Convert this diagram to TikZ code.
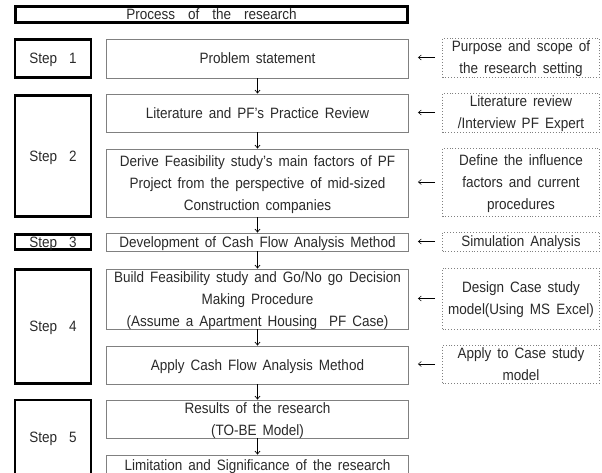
\documentclass[tikz,border=0pt]{standalone}
\usepackage{fontspec}
\setmainfont[WordSpace=1.6,FakeStretch=0.9]{Liberation Sans}
\usetikzlibrary{arrows.meta}
\definecolor{boxgray}{HTML}{808080}
\definecolor{txt}{HTML}{2A2A2A}
\newcommand{\wsp}{\hskip 12pt\relax}
\tikzset{
  basefont/.style={font=\fontsize{15}{22}\selectfont, text=txt},
  oneline/.style={text height=10.7pt, text depth=0pt},
  twolines/.style={text height=32.7pt, text depth=0pt},
  threelines/.style={text height=54.7pt, text depth=0pt},
  mainbox/.style={basefont, draw=boxgray, line width=0.9pt, minimum width=302pt, align=center, inner sep=0pt},
  stepbox/.style={basefont, oneline, draw=black, line width=2.8pt, minimum width=76pt, align=center, inner sep=0pt},
  sidebox/.style={basefont, draw=boxgray, line width=0.9pt, dotted, minimum width=157pt, align=center, inner sep=0pt},
  titlebox/.style={basefont, oneline, draw=black, line width=2.8pt, minimum width=392pt, minimum height=16pt, inner sep=0pt},
  downarr/.style={draw=black, line width=0.7pt, -{Straight Barb[length=3pt,width=5pt]}},
  leftarr/.style={draw=black, line width=0.5pt, -{Straight Barb[length=3pt,width=5pt]}}
}
\begin{document}
\begin{tikzpicture}[x=1pt,y=-1pt]
\useasboundingbox (0,0) rectangle (602,472);
\fill[white] (0,0) rectangle (602,472);
\begin{scope}
\clip (0,0) rectangle (602,472);
% title
\node[titlebox] (title) at (211.5,14.5) {Process\hskip 13pt of\hskip 13pt the\hskip 13pt research};
% step boxes
\node[stepbox, minimum height=38pt] (s1) at (53,58.5) {Step\wsp 1};
\node[stepbox, minimum height=121pt] (s2) at (53,156) {Step\wsp 2};
\node[stepbox, minimum height=15.5pt] (s3) at (53,242) {Step\wsp 3};
\node[stepbox, minimum height=114pt] (s4) at (53,326.5) {Step\wsp 4};
\node[stepbox, minimum height=74pt] (s5) at (53,437) {Step\wsp 5};
% main boxes
\node[mainbox, oneline, minimum height=39pt] (ps) at (257.5,58.5) {Problem statement};
\node[mainbox, oneline, minimum height=38pt] (lit) at (257.5,113) {Literature and PF's Practice Review};
\node[mainbox, threelines, minimum height=68pt] (der) at (257.5,183) {Derive Feasibility study's main factors of PF\\Project from the perspective of mid-sized\\Construction companies};
\node[mainbox, oneline, minimum height=18pt] (dev) at (257.5,242) {Development of Cash Flow Analysis Method};
\node[mainbox, threelines, minimum height=60pt] (bld) at (257.5,299) {Build Feasibility study and Go/No go Decision\\Making Procedure\\(Assume a Apartment Housing\ \ PF Case)};
\node[mainbox, oneline, minimum height=38pt] (app) at (257.5,365) {Apply Cash Flow Analysis Method};
\node[mainbox, twolines, minimum height=38pt] (res) at (257.5,419) {Results of the research\\(TO-BE Model)};
\node[mainbox, oneline, minimum height=20pt] (lim) at (257.5,465) {Limitation and Significance of the research};
% side boxes
\node[sidebox, twolines, minimum height=39pt] (pur) at (521,57.5) {Purpose and scope of\\the research setting};
\node[sidebox, twolines, minimum height=39pt] (lrv) at (521,112.5) {Literature review\\/Interview PF Expert};
\node[sidebox, threelines, minimum height=68pt] (dfn) at (521,182) {Define the influence\\factors and current\\procedures};
\node[sidebox, oneline, minimum height=19pt] (sim) at (521,241.5) {Simulation Analysis};
\node[sidebox, twolines, minimum height=61pt] (dsg) at (521,298.5) {Design Case study\\model(Using MS Excel)};
\node[sidebox, twolines, minimum height=38pt] (apt) at (521,364) {Apply to Case study\\model};
% down arrows
\foreach \a/\b in {ps/lit, lit/der, der/dev, dev/bld, bld/app, app/res, res/lim}
  \draw[downarr] (\a.south) -- (\b.north);
% left arrows
\foreach \a/\b in {pur/ps, lrv/lit, dfn/der, sim/dev, dsg/bld, apt/app}
  \draw[leftarr] ([xshift=-7pt]\a.west) -- ([xshift=9pt]\b.east |- \a.west);
\end{scope}
\end{tikzpicture}
\end{document}
